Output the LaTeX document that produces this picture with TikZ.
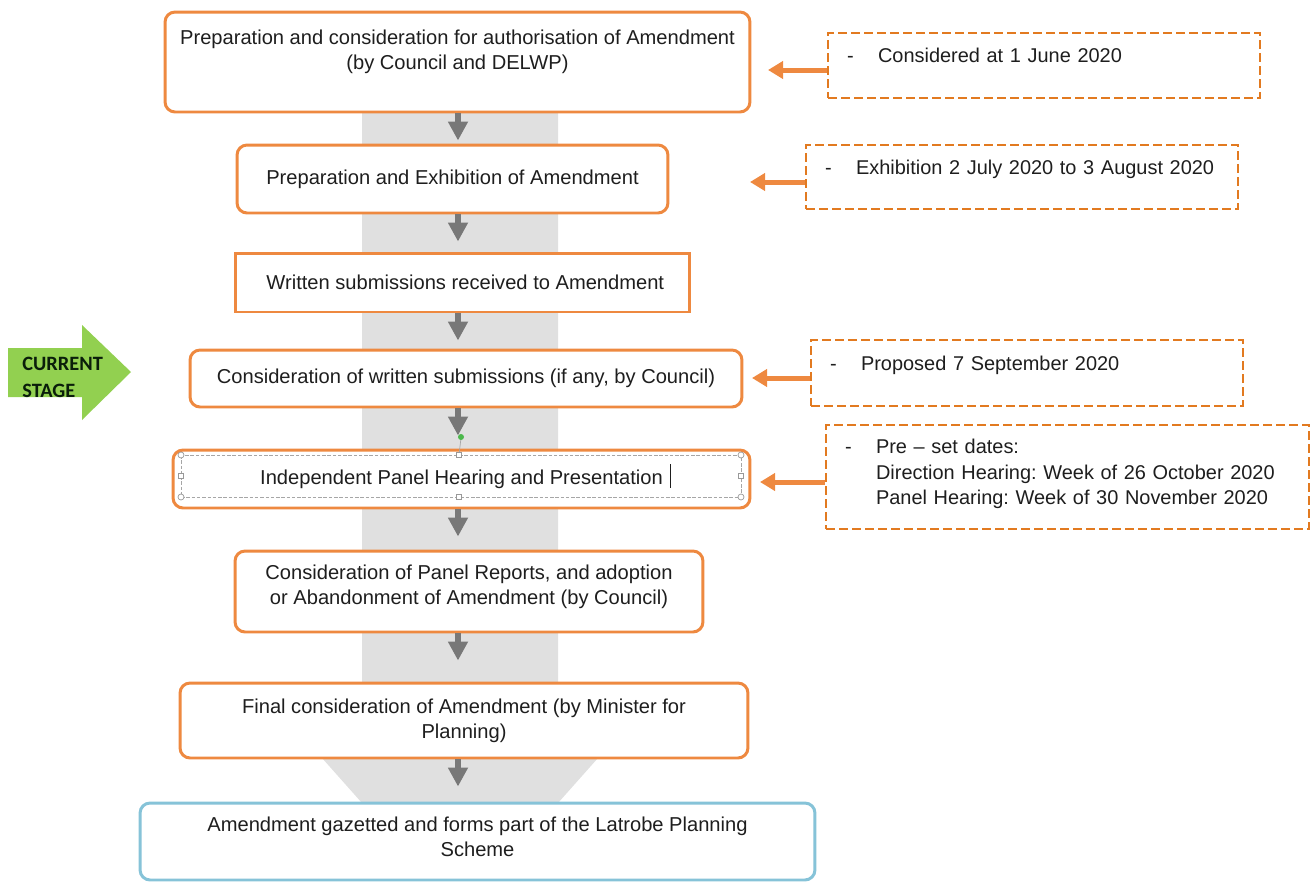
\documentclass[tikz,border=0pt]{standalone}
\usepackage{fontspec}
\setmainfont{Liberation Sans}
\newfontfamily\stagefont{Carlito}
\usetikzlibrary{arrows.meta,positioning}
\frenchspacing

\definecolor{boxorange}{RGB}{238,137,64}
\definecolor{dashorange}{RGB}{226,122,32}
\definecolor{boxblue}{RGB}{134,195,216}
\definecolor{bandgray}{RGB}{224,224,224}
\definecolor{flowgray}{RGB}{120,120,120}
\definecolor{stagegreen}{RGB}{146,208,80}
\definecolor{txt}{RGB}{30,30,30}

\tikzset{
  stepbox/.style={draw=boxorange, line width=1.7pt, rounded corners=0.2cm, fill=white,
    align=center, text=txt, font=\fontsize{11.45}{14.3}\selectfont, inner sep=0pt},
  notebox/.style={draw=dashorange, line width=1.6pt, dash pattern=on 5pt off 2.4pt, fill=white,
    align=left, text=txt, text width=#1, font=\fontsize{11.35}{14.5}\selectfont,
    inner xsep=0.38cm, inner ysep=0pt},
  flow/.style={draw=flowgray, line width=0.12cm, -{Triangle[width=0.38cm,length=0.38cm]}},
  noteline/.style={draw=boxorange, line width=0.1cm, -{Triangle[width=0.34cm,length=0.3cm]}},
  selframe/.style={draw=gray!70, line width=0.4pt, dash pattern=on 2pt off 1pt},
  handle/.style={draw=gray!80, fill=white, line width=0.4pt},
}

\newcommand{\dashitem}{\makebox[0.62cm][l]{-}}

\begin{document}
\begin{tikzpicture}[x=0.02cm, y=-0.02cm]
  \useasboundingbox (0,0) rectangle (1316,883);

	% Bande grise
  \fill[bandgray] (362,60) -- (558,60) -- (558,740) -- (614,740) -- (558,803)
    -- (362,803) -- (306,740) -- (362,740) -- cycle;

	% Etapes
  \node[stepbox, minimum width=11.7cm, minimum height=2cm] (b1) at (457.5,62)
    {Preparation and consideration for authorisation of Amendment\\(by Council and DELWP)\\ ~};
  \node[stepbox, minimum width=8.62cm, minimum height=1.36cm] (b2) at (452.5,179)
    {Preparation and Exhibition of Amendment};
  \node[stepbox, sharp corners, minimum width=9.1cm, minimum height=1.18cm] (b3) at (462.5,282.5)
    {\ Written submissions received to Amendment};
  \node[stepbox, minimum width=11.04cm, minimum height=1.14cm] (b4) at (466,378.5)
    {Consideration of written submissions (if any, by Council)};
  \node[stepbox, minimum width=11.54cm, minimum height=1.16cm] (b5) at (461.5,479)
    {Independent Panel Hearing and Presentation};
  \node[stepbox, minimum width=9.36cm, minimum height=1.62cm] (b6) at (469,591.5)
    {Consideration of Panel Reports, and adoption\\or Abandonment of Amendment (by Council)\\[-6.3pt]};
  \node[stepbox, minimum width=11.36cm, minimum height=1.5cm] (b7) at (464,720.5)
    {Final consideration of Amendment (by Minister for\\Planning)};
  \node[stepbox, draw=boxblue, minimum width=13.5cm, minimum height=1.54cm] (b8) at (477.5,841.5)
    {Amendment gazetted and forms part of the Latrobe Planning\\Scheme\\[-8.6pt]};

	% Fleches entre etapes
  \coordinate (axis) at (458,0);
  \foreach \a/\b/\s in {b1/b2/0.06, b2/b3/0.2, b3/b4/0.16, b4/b5/0.26, b5/b6/0.26, b6/b7/0.42, b7/b8/0.3}
    \draw[flow, shorten >=\s cm] (\a.south -| axis) -- (\b.north -| axis);

	% Selection de la zone de texte
  \draw[selframe] (181,455) rectangle (741,497);
  \draw[gray!70, line width=0.4pt] (459,455) -- (461,438);
  \fill[green!60!black!70] (461,437) circle (3);
  \foreach \p in {(181,455),(741,455),(181,497),(741,497)}
    \draw[handle] \p circle (3);
  \foreach \p in {(459,455),(459,497),(181,476),(741,476)}
    \draw[handle] \p ++(-2.5,-2.5) rectangle ++(5,5);
  \draw[txt, line width=0.5pt] (670,464) -- (670,488);

	% Notes
  \node[notebox=7.88cm, minimum width=8.64cm, minimum height=1.3cm] (s1) at (1044,65.5)
    {\dashitem Considered at 1 June 2020\\[-3pt] ~};
  \node[notebox=7.88cm, minimum width=8.64cm, minimum height=1.28cm] (s2) at (1022,177)
    {\dashitem Exhibition 2 July 2020 to 3 August 2020\\[-3pt] ~};
  \node[notebox=7.88cm, minimum width=8.64cm, minimum height=1.32cm] (s3) at (1027,373)
    {\dashitem Proposed 7 September 2020\\[-3pt] ~};
  \node[notebox=8.9cm, minimum width=9.66cm, minimum height=2.08cm] (s4) at (1067.5,477)
    {\dashitem Pre – set dates:\\
     \hspace*{0.62cm}Direction Hearing: Week of 26 October 2020\\
     \hspace*{0.62cm}Panel Hearing: Week of 30 November 2020\\[-9pt] ~};

	% Liaisons notes - etapes
  \coordinate (n1) at (768,70);
  \coordinate (n2) at (750,182);
  \coordinate (n3) at (752,378);
  \coordinate (n4) at (760,482);
  \foreach \i in {1,2,3,4}
    \draw[noteline] (s\i.west |- n\i) -- (n\i);

	% Etape courante
  \fill[stagegreen] (8,348) -- (82,348) -- (82,325) -- (131,372) -- (82,420)
    -- (82,397) -- (8,397) -- cycle;
  \node[anchor=west, align=left, text=txt!80!green!40!black, inner sep=0pt,
    font=\stagefont\bfseries\fontsize{11.6}{15.3}\selectfont] (stage) at (22,377)
    {CURRENT\\STAGE};

\end{tikzpicture}
\end{document}
